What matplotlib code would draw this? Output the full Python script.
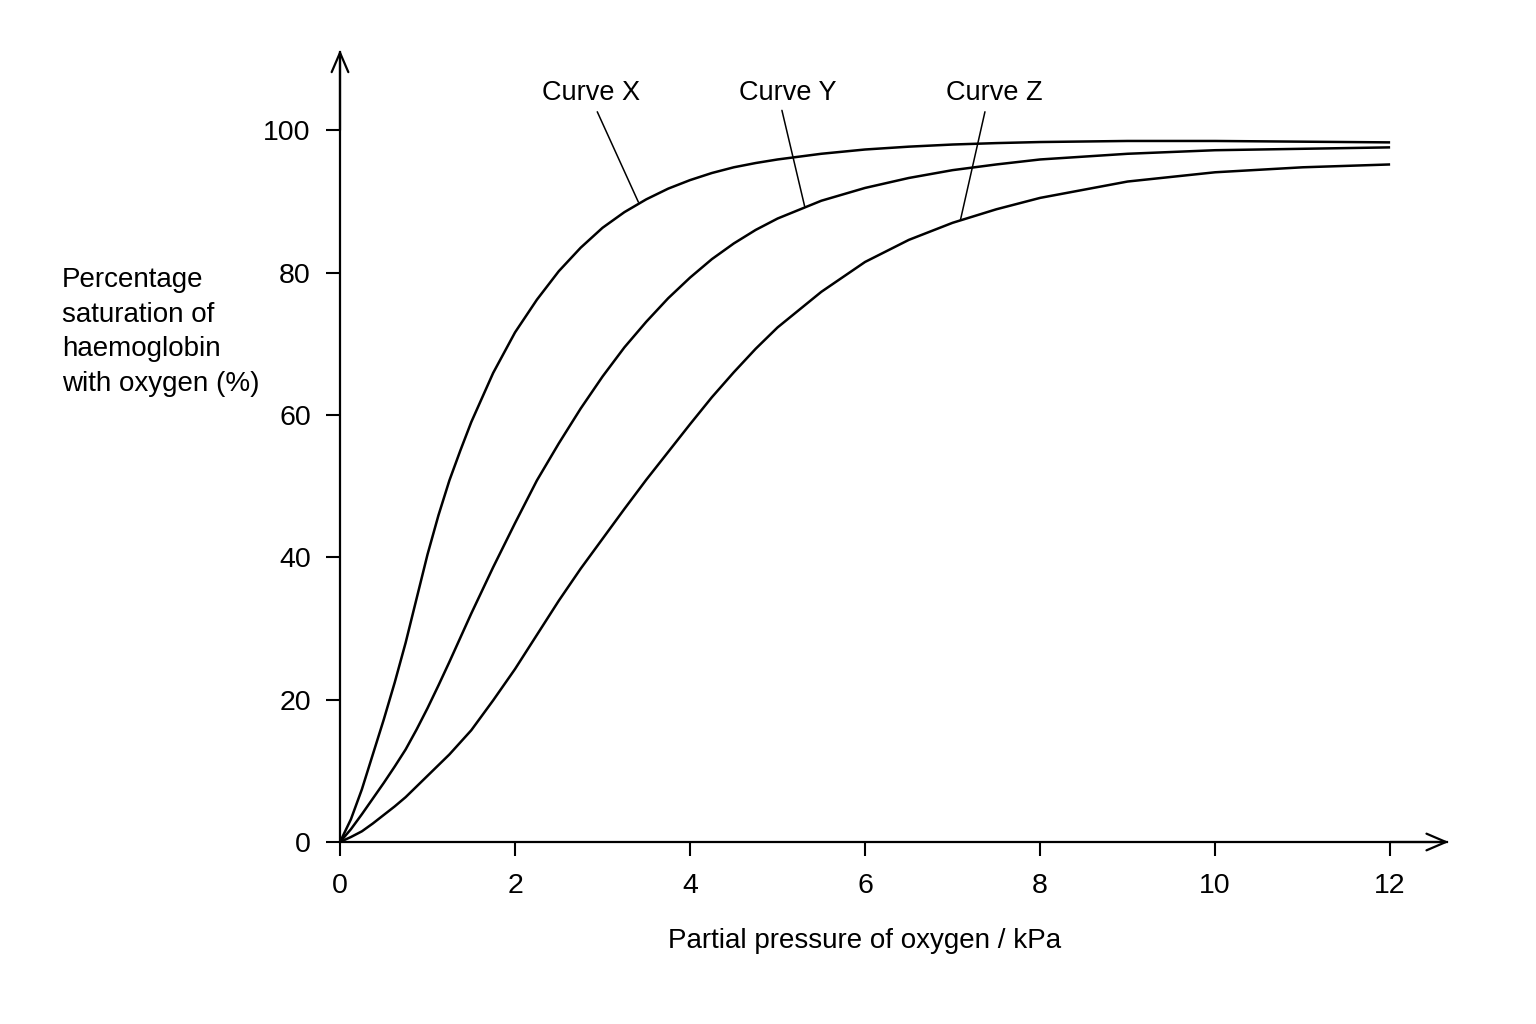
import matplotlib
matplotlib.use("Agg")
import matplotlib.pyplot as plt

plt.rcParams['font.family'] = ['Liberation Sans', 'DejaVu Sans']

# valeurs (pression en kPa, saturation en %)
pression = [0, 0.125, 0.25, 0.375, 0.5, 0.625, 0.75, 0.875, 1.0, 1.125, 1.25,
            1.375, 1.5, 1.75, 2.0, 2.25, 2.5, 2.75, 3.0, 3.25, 3.5, 3.75, 4.0,
            4.25, 4.5, 4.75, 5.0, 5.5, 6.0, 6.5, 7.0, 7.5, 8.0, 9.0, 10.0, 11.0,
            12.0]
courbe_x = [0, 3.2, 7.4, 12.3, 17.2, 22.4, 28.0, 34.2, 40.4, 45.9, 50.8,
            55.0, 59.0, 65.9, 71.6, 76.2, 80.2, 83.5, 86.3, 88.5, 90.3, 91.8, 93.0,
            94.0, 94.8, 95.4, 95.9, 96.7, 97.3, 97.7, 98.0, 98.2, 98.35, 98.5, 98.5, 98.4,
            98.3]
courbe_y = [0, 1.8, 3.9, 6.1, 8.3, 10.6, 13.0, 15.8, 18.8, 22.0, 25.3,
            28.7, 32.1, 38.6, 44.8, 50.8, 56.0, 60.9, 65.4, 69.5, 73.1, 76.4, 79.3,
            81.9, 84.1, 86.0, 87.6, 90.1, 91.9, 93.3, 94.4, 95.2, 95.9, 96.7, 97.2, 97.4,
            97.6]
courbe_z = [0, 0.7, 1.5, 2.6, 3.8, 5.0, 6.3, 7.8, 9.3, 10.8, 12.3,
            14.0, 15.7, 19.9, 24.3, 29.1, 33.9, 38.4, 42.6, 46.8, 50.9, 54.8, 58.7,
            62.5, 66.0, 69.3, 72.3, 77.3, 81.5, 84.6, 87.0, 88.9, 90.5, 92.8, 94.1, 94.8,
            95.2]

noms = ["Curve X", "Curve Y", "Curve Z"]
# position du texte, début du trait, point visé sur la courbe
etiquettes = [(2.87, 105.3), (5.12, 105.3), (7.48, 105.3)]
debuts = [(2.94, 102.6), (5.05, 102.8), (7.37, 102.6)]
cibles = [(3.41, 89.9), (5.31, 89.3), (7.09, 87.4)]

fig = plt.figure(figsize=(15.36, 10.24), dpi=100)
ax = fig.add_axes([340 / 1536, 182 / 1024, 1107 / 1536, 790 / 1024])

for serie in [courbe_x, courbe_y, courbe_z]:
    ax.plot(pression, serie, color='black', lw=1.8,
            solid_joinstyle='round', solid_capstyle='butt')

ax.set_xlim(0, 12.65)
ax.set_ylim(0, 111)
ax.spines['top'].set_visible(False)
ax.spines['right'].set_visible(False)
ax.spines['left'].set_linewidth(1.6)
ax.spines['bottom'].set_linewidth(1.6)

ax.set_xticks(range(0, 13, 2))
ax.set_yticks(range(0, 101, 20))
ax.tick_params(axis='both', direction='out', length=10, width=1.5, labelsize=20.5)
ax.tick_params(axis='y', pad=11)
ax.tick_params(axis='x', pad=12)

# flèches au bout des axes
fleche = dict(arrowstyle='->,head_length=0.7,head_width=0.3', lw=1.6,
              color='black', mutation_scale=20, shrinkA=0, shrinkB=0)
ax.annotate('', xy=(0, 111.3), xytext=(0, 100), arrowprops=fleche,
            annotation_clip=False)
ax.annotate('', xy=(12.67, 0), xytext=(12, 0), arrowprops=fleche,
            annotation_clip=False)

for nom, pos, deb, cible in zip(noms, etiquettes, debuts, cibles):
    ax.text(pos[0], pos[1], nom, fontsize=19.5, ha='center', va='center')
    ax.annotate('', xy=cible, xytext=deb,
                arrowprops=dict(arrowstyle='-', lw=1.1, color='black',
                                shrinkA=0, shrinkB=0))

ax.text(6, -13.9, 'Partial pressure of oxygen / kPa', fontsize=20,
        ha='center', va='center')
fig.text(62 / 1536, 1 - 332 / 1024,
         'Percentage\nsaturation of\nhaemoglobin\nwith oxygen (%)',
         fontsize=20, ha='left', va='center', linespacing=1.42)

fig.savefig('out.png', dpi=100, facecolor='white')
